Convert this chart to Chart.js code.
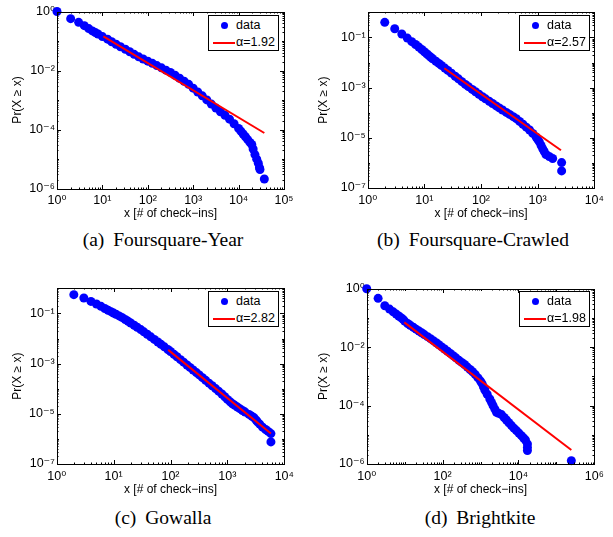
<!DOCTYPE html>
<html><head><meta charset="utf-8">
<script src="https://cdn.jsdelivr.net/npm/chart.js@4.4.0/dist/chart.umd.min.js"></script>
<style>
html,body{margin:0;padding:0;background:#fff;}
#wrap{position:relative;width:613px;height:537px;overflow:hidden;background:#fff;}
canvas{position:absolute;}
.legend{position:absolute;width:71px;height:36px;border:1px solid #000;background:#fff;box-sizing:border-box;font-family:'Liberation Sans',Arial,sans-serif;font-size:12.5px;color:#000;}
.legend .dot{position:absolute;left:11.5px;top:6.2px;width:7px;height:7px;border-radius:50%;background:#0000ff;}
.legend .ln{position:absolute;left:4.3px;top:25.7px;width:21.7px;height:2px;background:#ff0000;}
.legend .t{position:absolute;left:27px;line-height:1;white-space:nowrap;}
.cap{position:absolute;font-family:'Liberation Serif','Times New Roman',serif;font-size:19.5px;line-height:1;white-space:nowrap;word-spacing:4px;color:#000;transform:translateX(-50%);}
</style></head><body><div id="wrap">
<canvas id="ca" width="306" height="225" style="left:0;top:0"></canvas>
<canvas id="cb" width="307" height="225" style="left:306px;top:0"></canvas>
<canvas id="cc" width="306" height="225" style="left:0;top:276px"></canvas>
<canvas id="cd" width="307" height="225" style="left:306px;top:276px"></canvas>
<div class="legend" style="left:208px;top:15px"><span class="dot"></span><span class="t" style="top:3.4px">data</span><span class="ln"></span><span class="t" style="top:20.1px">α=1.92</span></div>
<div class="legend" style="left:519px;top:15px"><span class="dot"></span><span class="t" style="top:3.4px">data</span><span class="ln"></span><span class="t" style="top:20.1px">α=2.57</span></div>
<div class="legend" style="left:208px;top:291px"><span class="dot"></span><span class="t" style="top:3.4px">data</span><span class="ln"></span><span class="t" style="top:20.1px">α=2.82</span></div>
<div class="legend" style="left:519px;top:291px"><span class="dot"></span><span class="t" style="top:3.4px">data</span><span class="ln"></span><span class="t" style="top:20.1px">α=1.98</span></div>
<div class="cap" style="left:163px;top:229.7px">(a) Foursquare-Year</div>
<div class="cap" style="left:473px;top:229.7px">(b) Foursquare-Crawled</div>
<div class="cap" style="left:163px;top:507.7px">(c) Gowalla</div>
<div class="cap" style="left:480px;top:507.7px">(d) Brightkite</div>
</div>
<script>
// ---- Data ----
const xTitle = 'x [# of check−ins]';
const yTitle = 'Pr(X ≥ x)';

// (a) Foursquare-Year
const fyX = [1,2,3,4,5,6,7,8,10,13,16,20,25,32,40,50,63,79,100,126,158,200,251,316,398,501,631,794,1000,1259,1585,1995,2512,3162,3981,5012,6310,7943,10000,11220,12590,14125,15850,17780,19500,20900,22900,25100,27200,28800,29600,36900];
const fyY = [1,0.571,0.43,0.331,0.263,0.220,0.193,0.172,0.141,0.1156,0.0946,0.0776,0.0638,0.0525,0.0431,0.0353,0.0290,0.0245,0.0207,0.0175,0.0147,0.0123,0.01028,0.0086,0.0069,0.00546,0.00432,0.0034,0.00252,0.001875,0.001387,0.001005,7.28e-4,5.32e-4,4.01e-4,3.03e-4,2.24e-4,1.57e-4,1.09e-4,8.8e-5,7.05e-5,5.66e-5,4.55e-5,3.65e-5,3.09e-5,2.19e-5,1.41e-5,9.9e-6,7.2e-6,5.1e-6,4.4e-6,2.1e-6];
const fyFitX = [10.5, 36900];
const fyFitY = [0.144, 7.6e-5];

// (b) Foursquare-Crawled
const fcX = [2,3,4,5,6,7,8,9,10,11,12,13,14,16,18,20,23,26,30,35,40,46,53,60,70,80,92,106,120,140,160,185,210,240,280,320,370,420,480,550,630,720,820,940,1000,1070,1150,1225,1300,1400,1600,1840,2650,2650];
const fcY = [0.398,0.222,0.136,0.094,0.0676,0.0519,0.0412,0.033,0.0269,0.0224,0.0189,0.0162,0.0141,0.0112,0.0092,0.00766,0.006,0.00484,0.00376,0.00284,0.00223,0.00173,0.00134,0.00109,8.47e-4,6.81e-4,5.41e-4,4.3e-4,3.56e-4,2.83e-4,2.32e-4,1.87e-4,1.55e-4,1.28e-4,1.03e-4,8.55e-5,6.97e-5,5.8e-5,4.49e-5,3.45e-5,2.65e-5,2.04e-5,1.5e-5,1.08e-5,8.7e-6,6.9e-6,4.93e-6,3.72e-6,2.92e-6,2.17e-6,1.8e-6,1.49e-6,1.03e-6,4.8e-7];
const fcFitX = [22.5, 2580];
const fcFitY = [5.93e-3, 3.2e-6];

// (c) Gowalla
const gwX = [2,3,4,5,6,7,8,9,10,11,12.5,14,16,18,20,23,26,30,34,39,45,52,60,68,78,90,100,115,130,150,170,195,220,250,285,320,365,415,475,540,620,700,800,900,1000,1120,1225,1350,1500,1650,1840,2050,2400,2700,2960,3200,3380,3700,4150,4700,5200,5820,5820];
const gwY = [0.558,0.41,0.30,0.236,0.191,0.157,0.134,0.117,0.103,0.0923,0.0793,0.0693,0.0572,0.0483,0.0414,0.0337,0.0282,0.0226,0.0184,0.0147,0.01167,0.0092,0.00724,0.00585,0.00465,0.00365,0.00302,0.00234,0.00187,0.00144,0.00114,8.79e-4,7.03e-4,5.56e-4,4.38e-4,3.55e-4,2.76e-4,2.15e-4,1.66e-4,1.31e-4,1.01e-4,7.98e-5,6.17e-5,4.76e-5,3.74e-5,3.0e-5,2.51e-5,2.17e-5,1.85e-5,1.6e-5,1.36e-5,1.17e-5,9.44e-6,7.93e-6,6.92e-6,5.57e-6,4.79e-6,3.86e-6,2.93e-6,2.37e-6,1.99e-6,1.63e-6,7.6e-7];
const gwFitX = [91, 5820];
const gwFitY = [3.52e-3, 1.63e-6];

// (d) Brightkite
const bkX = [1,2,3,4,5,6,7,8,9,10,12,14,17,20,24,28,33,40,48,57,68,80,95,113,135,160,190,225,270,320,380,450,530,620,730,860,1000,1100,1200,1300,1500,1760,1950,2150,2400,2640,3000,3570,4200,4830,5600,6550,7600,8850,10300,12000,13700,15300,17250,17250,17250,248000];
const bkY = [1,0.467,0.262,0.2,0.161,0.135,0.116,0.102,0.0908,0.078,0.0642,0.0562,0.0475,0.0413,0.0354,0.0310,0.0269,0.0228,0.0195,0.0167,0.0141,0.0121,0.0102,0.0086,0.00726,0.00611,0.00511,0.00429,0.00354,0.00300,0.00254,0.00207,0.00171,0.00144,0.00115,8.83e-4,6.89e-4,5.64e-4,4.35e-4,3.42e-4,2.45e-4,1.68e-4,1.29e-4,9.95e-5,7.52e-5,5.89e-5,5.45e-5,4.9e-5,3.91e-5,3.21e-5,2.59e-5,2.06e-5,1.69e-5,1.39e-5,1.14e-5,9.35e-6,7.74e-6,6.65e-6,4.85e-6,3.7e-6,2.87e-6,1.3e-6];
const bkFitX = [9.8, 248000];
const bkFitY = [0.0705, 3.03e-6];

// Tick values and labels
const xTicks5 = [1,10,100,1000,10000,100000];
const xLabels5 = ['10⁰','10¹','10²','10³','10⁴','10⁵'];
const xTicks4 = [1,10,100,1000,10000];
const xLabels4 = ['10⁰','10¹','10²','10³','10⁴'];
const xTicks6 = [1,100,10000,1000000];
const xLabels6 = ['10⁰','10²','10⁴','10⁶'];
const yTicksEven = [1e-6,1e-4,1e-2,1];
const yLabelsEven = ['10⁻⁶','10⁻⁴','10⁻²','10⁰'];
const yTicksOdd = [1e-7,1e-5,1e-3,1e-1];
const yLabelsOdd = ['10⁻⁷','10⁻⁵','10⁻³','10⁻¹'];

const FONT = "'Liberation Sans', 'DejaVu Sans', Arial, sans-serif";

const frame = {
  id: 'frame',
  afterDatasetsDraw(chart) {
    const {ctx, chartArea, scales} = chart;
    const xs = scales.x, ys = scales.y;
    const L = Math.round(chartArea.left), R = Math.round(chartArea.right);
    const T = Math.round(chartArea.top), B = Math.round(chartArea.bottom);
    const majX = xs.ticks.map(t => t.value), majY = ys.ticks.map(t => t.value);
    ctx.save();
    ctx.strokeStyle = '#000';
    ctx.lineWidth = 1;
    ctx.beginPath();
    const tickX = (v, len) => {
      const p = Math.round(xs.getPixelForValue(v)) + 0.5;
      if (p < L || p > R + 1) return;
      ctx.moveTo(p, B); ctx.lineTo(p, B - len);
      ctx.moveTo(p, T); ctx.lineTo(p, T + len);
    };
    const tickY = (v, len) => {
      const p = Math.round(ys.getPixelForValue(v)) + 0.5;
      if (p < T || p > B + 1) return;
      ctx.moveTo(L, p); ctx.lineTo(L + len, p);
      ctx.moveTo(R, p); ctx.lineTo(R - len, p);
    };
    const minorOf = (scale, majors, fn) => {
      const lo = Math.round(Math.log10(scale.min)), hi = Math.round(Math.log10(scale.max));
      for (let e = lo; e <= hi; e++) {
        const d = Math.pow(10, e);
        if (!majors.some(m => Math.abs(Math.log10(m) - e) < 1e-9)) fn(d, 2);
        if (e < hi) for (let k = 2; k <= 9; k++) fn(k * d, 1.5);
      }
    };
    majX.forEach(v => tickX(v, 4));
    majY.forEach(v => tickY(v, 4));
    minorOf(xs, majX, tickX);
    minorOf(ys, majY, tickY);
    ctx.stroke();
    ctx.strokeRect(L + 0.5, T + 0.5, R - L, B - T);
    ctx.restore();
  }
};

function makeChart(id, o) {
  const pts = o.xs.map((v, i) => ({x: v, y: o.ys[i]}));
  const fit = o.fx.map((v, i) => ({x: v, y: o.fy[i]}));
  new Chart(document.getElementById(id), {
    type: 'scatter',
    data: {datasets: [
      {label: 'fit', type: 'line', data: fit, borderColor: '#ff0000', borderWidth: 2, pointRadius: 0, fill: false, order: 0, clip: false},
      {label: 'data', data: pts, backgroundColor: '#0000ff', pointRadius: 4.5, pointHoverRadius: 4.5, borderWidth: 0, order: 1, clip: false}
    ]},
    options: {
      responsive: false, animation: false, devicePixelRatio: 1,
      events: [],
      layout: {padding: {left: 0, right: o.padR, top: o.padT, bottom: 0}},
      plugins: {legend: {display: false}, tooltip: {enabled: false}},
      scales: {
        x: {
          type: 'logarithmic', position: 'bottom', min: o.xmin, max: o.xmax,
          afterBuildTicks: s => { s.ticks = o.xt.map(v => ({value: v})); },
          afterFit: s => { s.height = o.xh; },
          ticks: {callback: (v, i) => o.xl[i], color: '#000', font: {family: FONT, size: 12.5}, padding: 5, maxRotation: 0, autoSkip: false},
          grid: {display: false, drawTicks: false}, border: {display: false},
          title: {display: true, text: xTitle, color: '#000', font: {family: FONT, size: 12}, padding: {top: 0, bottom: 4.3}}
        },
        y: {
          type: 'logarithmic', position: 'left', min: o.ymin, max: o.ymax,
          afterBuildTicks: s => { s.ticks = o.yt.map(v => ({value: v})); },
          afterFit: s => { s.width = o.yw; },
          ticks: {callback: (v, i) => o.yl[i], color: '#000', font: {family: FONT, size: 12.5}, padding: 2, autoSkip: false},
          grid: {display: false, drawTicks: false}, border: {display: false},
          title: {display: true, text: yTitle, color: '#000', font: {family: FONT, size: 12}, padding: {top: 10.8, bottom: 0}}
        }
      }
    },
    plugins: [frame]
  });
}

makeChart('ca', {xs: fyX, ys: fyY, fx: fyFitX, fy: fyFitY, xmin: 1, xmax: 1e5, ymin: 1e-6, ymax: 1,
  xt: xTicks5, xl: xLabels5, yt: yTicksEven, yl: yLabelsEven, padR: 22, padT: 11.5, xh: 36.5, yw: 57});
makeChart('cb', {xs: fcX, ys: fcY, fx: fcFitX, fy: fcFitY, xmin: 1, xmax: 1e4, ymin: 1e-7, ymax: 1,
  xt: xTicks4, xl: xLabels4, yt: yTicksOdd, yl: yLabelsOdd, padR: 18.7, padT: 12.3, xh: 37, yw: 61.7});
makeChart('cc', {xs: gwX, ys: gwY, fx: gwFitX, fy: gwFitY, xmin: 1, xmax: 1e4, ymin: 1e-7, ymax: 1,
  xt: xTicks4, xl: xLabels4, yt: yTicksOdd, yl: yLabelsOdd, padR: 21.7, padT: 12.3, xh: 37, yw: 56.7});
makeChart('cd', {xs: bkX, ys: bkY, fx: bkFitX, fy: bkFitY, xmin: 1, xmax: 1e6, ymin: 1e-6, ymax: 1,
  xt: xTicks6, xl: xLabels6, yt: yTicksEven, yl: yLabelsEven, padR: 18.7, padT: 12.7, xh: 37, yw: 60.7});
</script>
</body></html>
